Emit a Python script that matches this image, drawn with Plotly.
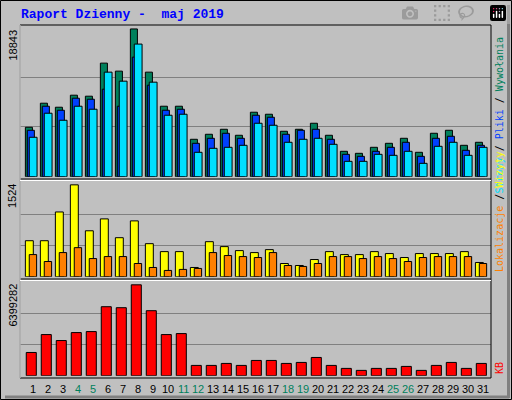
import plotly.graph_objects as go

days = list(range(1, 32))
weekends = [4, 5, 11, 12, 18, 19, 25, 26]
hits = [6305, 9372, 8861, 10394, 10267, 14484, 13462, 18843, 13334, 8989, 8989, 4771, 5410, 6049, 5282, 8222,
        7966, 5794, 6049, 6816, 5282, 3238, 2982, 3749, 4260, 4899, 3110, 5538, 5921, 4004, 4388]
files = [5921, 8989, 8477, 10011, 9883, 11161, 8989, 15251, 11672, 8477, 8605, 4260, 4899, 5538, 4899, 7838,
         7583, 5410, 5921, 6049, 4771, 2854, 2599, 3238, 3749, 4388, 2599, 4899, 5155, 3365, 4004]
pages = [5027, 8094, 7199, 8989, 8605, 13334, 12184, 16912, 12056, 7838, 7966, 3110, 3621, 3749, 4004, 6816,
         6560, 4388, 4771, 4899, 4132, 1960, 1960, 2854, 2726, 3238, 1704, 3877, 4388, 2726, 3749]
visits = [597, 597, 1074, 1524, 762, 959, 647, 926, 548, 416, 416, 153, 581, 499, 433, 400,
          449, 219, 186, 285, 416, 367, 367, 416, 384, 318, 384, 384, 384, 416, 236]
sites = [367, 252, 400, 482, 301, 334, 334, 219, 153, 104, 121, 137, 400, 351, 334, 318,
         400, 186, 170, 219, 334, 334, 301, 334, 301, 252, 318, 334, 334, 334, 219]
kb = [1634850, 2896020, 2475630, 3036150, 3106215, 4857840, 4787775, 6399282, 4577580, 2896020, 2966085,
      724005, 724005, 864135, 724005, 1074330, 1074330, 864135, 934200, 1284525, 724005, 513810, 373680,
      513810, 513810, 653940, 373680, 724005, 934200, 513810, 864135]

C_HITS, C_FILES, C_PAGES = "#00805c", "#0040ff", "#00e0ff"
C_VIS, C_SITES, C_KB = "#ffff00", "#ff8000", "#ff0000"
BG = "#c0c0c0"

def py(p):
    return 1 - p / 400.0

fig = go.Figure()
line = dict(color="black", width=1)
def bar(y, color, off, w, ax):
    fig.add_trace(go.Bar(x=days, y=y, marker=dict(color=color, line=line), offset=off, width=w,
                         xaxis="x" if ax == 1 else f"x{ax}", yaxis="y" if ax == 1 else f"y{ax}"))

bar(hits, C_HITS, -0.51, 0.47, 1)
bar(files, C_FILES, -0.38, 0.47, 1)
bar(pages, C_PAGES, -0.25, 0.52, 1)
bar(visits, C_VIS, -0.51, 0.53, 2)
bar(sites, C_SITES, -0.25, 0.49, 2)
bar(kb, C_KB, -0.45, 0.67, 3)

xr = [0.133, 31.53]
def yax(mx, dom):
    return dict(domain=dom, range=[0, mx * 1.02], tickvals=[mx * 1.02 / 3, mx * 1.02 * 2 / 3],
                showticklabels=False, showgrid=True, gridcolor="#808080", gridwidth=1,
                zeroline=False, showline=False, fixedrange=True)
def xax(anchor):
    return dict(range=xr, domain=[20 / 512, 491 / 512], showticklabels=False, showgrid=False,
                zeroline=False, anchor=anchor, fixedrange=True)

fig.update_layout(
    width=512, height=400, margin=dict(l=0, r=0, t=0, b=0), autosize=False,
    paper_bgcolor=BG, plot_bgcolor=BG, showlegend=False, barmode="overlay",
    xaxis=xax("y"), xaxis2=xax("y2"), xaxis3=xax("y3"),
    yaxis=yax(max(hits) * 0.99, [py(176.7), py(27.5)]),
    yaxis2=yax(max(visits) * 1.0, [py(276.7), py(183)]),
    yaxis3=yax(max(kb) * 1.0, [py(375.7), py(283)]),
)

shapes = [
    dict(type="rect", xref="paper", yref="paper", x0=0.5 / 512, x1=511.5 / 512, y0=py(399.5), y1=py(0.5),
         line=dict(color="black", width=1)),
    dict(type="line", xref="paper", yref="paper", x0=508.5 / 512, x1=508.5 / 512, y0=py(398), y1=py(5),
         line=dict(color="#808080", width=3)),
    dict(type="line", xref="paper", yref="paper", x0=5 / 512, x1=509 / 512, y0=py(397), y1=py(397),
         line=dict(color="#808080", width=3)),
    dict(type="rect", xref="paper", yref="paper", x0=20 / 512, x1=491 / 512, y0=py(378), y1=py(25),
         line=dict(color="black", width=1)),
    dict(type="line", xref="paper", yref="paper", x0=20 / 512, x1=491 / 512, y0=py(179), y1=py(179),
         line=dict(color="black", width=1)),
    dict(type="line", xref="paper", yref="paper", x0=20 / 512, x1=491 / 512, y0=py(180.5), y1=py(180.5),
         line=dict(color="white", width=1)),
    dict(type="line", xref="paper", yref="paper", x0=20 / 512, x1=491 / 512, y0=py(279), y1=py(279),
         line=dict(color="black", width=1)),
    dict(type="line", xref="paper", yref="paper", x0=20 / 512, x1=491 / 512, y0=py(280.5), y1=py(280.5),
         line=dict(color="white", width=1)),
    dict(type="line", xref="paper", yref="paper", x0=20 / 512, x1=20 / 512, y0=py(378), y1=py(25),
         line=dict(color="white", width=1)),
]
fig.update_layout(shapes=shapes)

ann = []
ann.append(dict(text="<b>Raport Dzienny -  maj 2019</b>", xref="paper", yref="paper", x=19 / 512, y=py(15),
                xanchor="left", yanchor="middle", showarrow=False,
                font=dict(family="Liberation Mono", size=13, color="#0000ff")))
for val, ytop in [(max(hits), 28), (max(visits), 182), (max(kb), 282)]:
    ann.append(dict(text=str(val), xref="paper", yref="paper", x=12 / 512, y=py(ytop), textangle=-90,
                    xanchor="center", yanchor="top", showarrow=False,
                    font=dict(family="Liberation Sans", size=11, color="black")))
mono = "DejaVu Sans Mono"
ann.append(dict(text=f"<span style='color:{C_PAGES}'>Strony</span> / <span style='color:{C_FILES}'>Pliki</span> / "
                     f"<span style='color:{C_HITS}'>Wywołania</span>",
                xref="paper", yref="paper", x=499 / 512, y=py(196), textangle=-90, xanchor="center",
                yanchor="bottom", showarrow=False, font=dict(family=mono, size=10, color="black")))
ann.append(dict(text=f"<span style='color:{C_SITES}'>Lokalizacje</span> / <span style='color:{C_VIS}'>Wizyty</span>",
                xref="paper", yref="paper", x=499 / 512, y=py(274), textangle=-90, xanchor="center",
                yanchor="bottom", showarrow=False, font=dict(family=mono, size=10, color="black")))
ann.append(dict(text="KB", xref="paper", yref="paper", x=499 / 512, y=py(376), textangle=-90, xanchor="center",
                yanchor="bottom", showarrow=False, font=dict(family=mono, size=10, color=C_KB)))
for d in days:
    ann.append(dict(text=str(d), xref="x3", yref="paper", x=d, y=py(389), xanchor="center", yanchor="middle",
                    showarrow=False, font=dict(family="Liberation Sans", size=11,
                                               color=C_HITS if d in weekends else "black")))
fig.update_layout(annotations=ann)

fig.write_html("out.html", post_script="document.body.style.margin='0';document.body.style.overflow='hidden';")
